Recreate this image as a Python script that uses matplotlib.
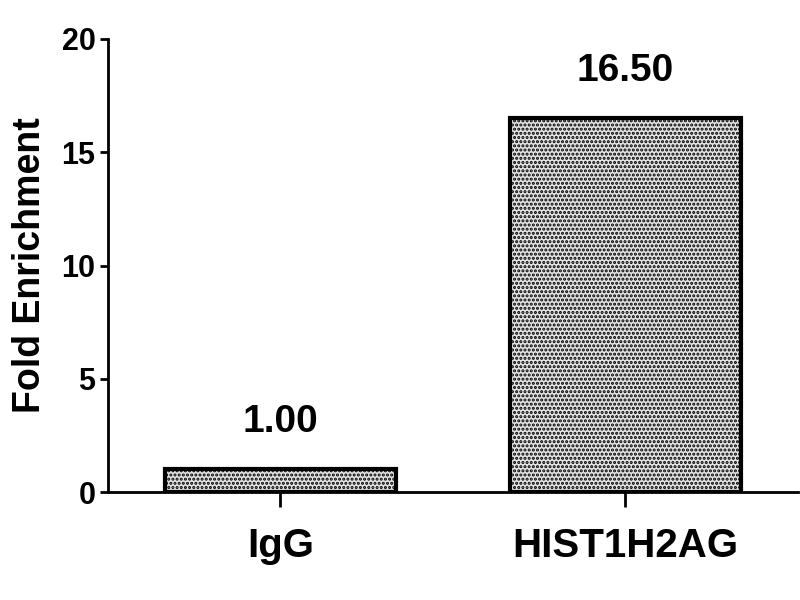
import matplotlib
matplotlib.use('Agg')
from matplotlib import pyplot as plt

categories = ['IgG', 'HIST1H2AG']
values = [1.00, 16.50]
yticks = [0, 5, 10, 15, 20]

plt.rcParams['font.family'] = ['Liberation Sans', 'DejaVu Sans']
plt.rcParams['font.weight'] = 'bold'
plt.rcParams['hatch.color'] = '#1a1a1a'
plt.rcParams['hatch.linewidth'] = 1.5

fig = plt.figure(figsize=(8, 6), dpi=100)
ax = fig.add_axes([0.135, 0.18, 0.862, 0.755])

xs = range(len(categories))
bars = ax.bar(xs, values, width=0.67, color='#e4e4e4', edgecolor='black',
              linewidth=3, hatch='....', zorder=3)

for x, v in zip(xs, values):
    ax.text(x, v + 1.3, '%.2f' % v, ha='center', va='bottom',
            fontsize=28, fontweight='bold')

ax.set_xlim(-0.5, 1.5)
ax.set_ylim(0, 20)
ax.set_yticks(yticks)
ax.set_xticks(list(xs))
ax.set_xticklabels(categories, fontsize=29, fontweight='bold')
ax.set_yticklabels([str(t) for t in yticks], fontsize=22, fontweight='bold')
ax.set_ylabel('Fold Enrichment', fontsize=27, fontweight='bold', labelpad=10)

for side in ['top', 'right']:
    ax.spines[side].set_visible(False)
for side in ['left', 'bottom']:
    ax.spines[side].set_linewidth(2)
ax.tick_params(axis='y', length=6, width=2, pad=3)
ax.tick_params(axis='x', length=11, width=2, pad=14)

fig.savefig('out.png', dpi=100)
